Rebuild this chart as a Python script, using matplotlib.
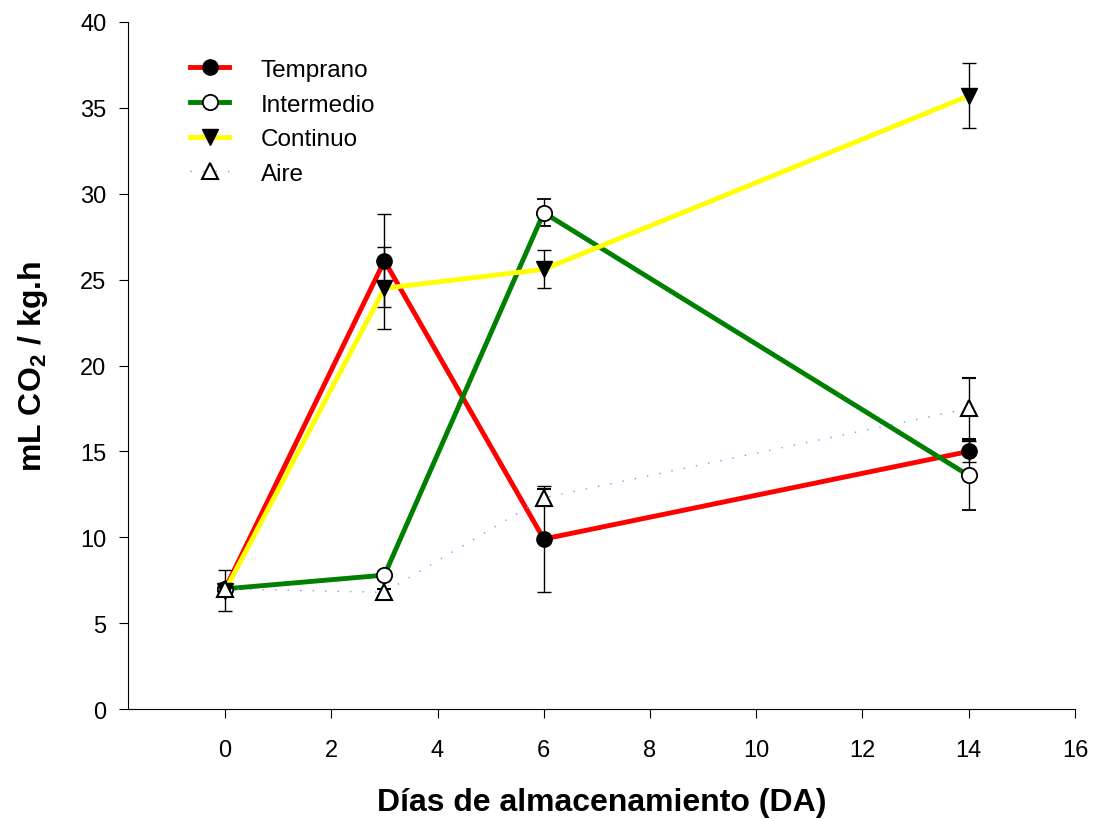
import matplotlib
matplotlib.use('Agg')
import matplotlib.pyplot as plt
from matplotlib.lines import Line2D

plt.rcParams['font.family'] = ['Liberation Sans', 'DejaVu Sans']
plt.rcParams['mathtext.fontset'] = 'custom'
plt.rcParams['mathtext.rm'] = 'Liberation Sans'
plt.rcParams['mathtext.bf'] = 'Liberation Sans:bold'

# data
dias = [0, 3, 6, 14]
temprano = [7.0, 26.1, 9.9, 15.0]
temprano_err = [0.3, 2.7, 3.1, 0.6]
intermedio = [7.0, 7.8, 28.9, 13.6]
intermedio_err = [0.3, 0.2, 0.8, 2.0]
continuo = [6.9, 24.5, 25.6, 35.7]
continuo_err = [1.2, 2.4, 1.1, 1.9]
aire = [7.0, 6.8, 12.3, 17.5]
aire_err = [0.3, 0.2, 0.5, 1.8]

fig = plt.figure(figsize=(10.93, 8.2), dpi=100)
ax = fig.add_axes([0.117, 0.134, 0.8665, 0.838])

ebkw = dict(ecolor='black', elinewidth=1, capsize=5, capthick=1)

estilos = [
    dict(color='#ff0000', lw=3.5, marker='o', ms=11, mfc='black', mec='black', zorder=3),
    dict(color='#008000', lw=3.5, marker='o', ms=11, mfc='white', mec='black', mew=1.3, zorder=3),
    dict(color='#ffff00', lw=3.5, marker='v', ms=12, mfc='black', mec='black', zorder=4),
    dict(color='#8c8cff', lw=1, ls=(0, (1, 8)), marker='^', ms=11, mfc='white', mec='black', mew=1.5, zorder=5),
]
series = [temprano, intermedio, continuo, aire]
errores = [temprano_err, intermedio_err, continuo_err, aire_err]
nombres = ['Temprano', 'Intermedio', 'Continuo', 'Aire']

handles = []
for y, e, st, nom in zip(series, errores, estilos, nombres):
    ax.errorbar(dias, y, yerr=e, **st, **ebkw)
    hst = {k: v for k, v in st.items() if k != 'zorder'}
    handles.append(Line2D([], [], label=nom, **hst))

ax.set_xlim(-1.83, 16)
ax.set_ylim(0, 40)
ax.set_xticks(range(0, 17, 2))
ax.set_yticks(range(0, 41, 5))
ax.tick_params(labelsize=17, direction='out', length=6.5)
ax.tick_params(axis='x', pad=15)
ax.tick_params(axis='y', pad=9)
ax.spines['top'].set_visible(False)
ax.spines['right'].set_visible(False)

ax.set_xlabel('Días de almacenamiento (DA)', fontsize=23, fontweight='bold', labelpad=19)
ax.set_ylabel(r'mL CO$_\mathbf{2}$ / kg.h', fontsize=23, fontweight='bold', labelpad=22)

ax.legend(handles=handles, loc='upper left', bbox_to_anchor=(0.043, 0.978), frameon=False,
          fontsize=17.5, handlelength=1.6, handletextpad=1.3, labelspacing=0.52)

fig.savefig('out.png', dpi=100)
